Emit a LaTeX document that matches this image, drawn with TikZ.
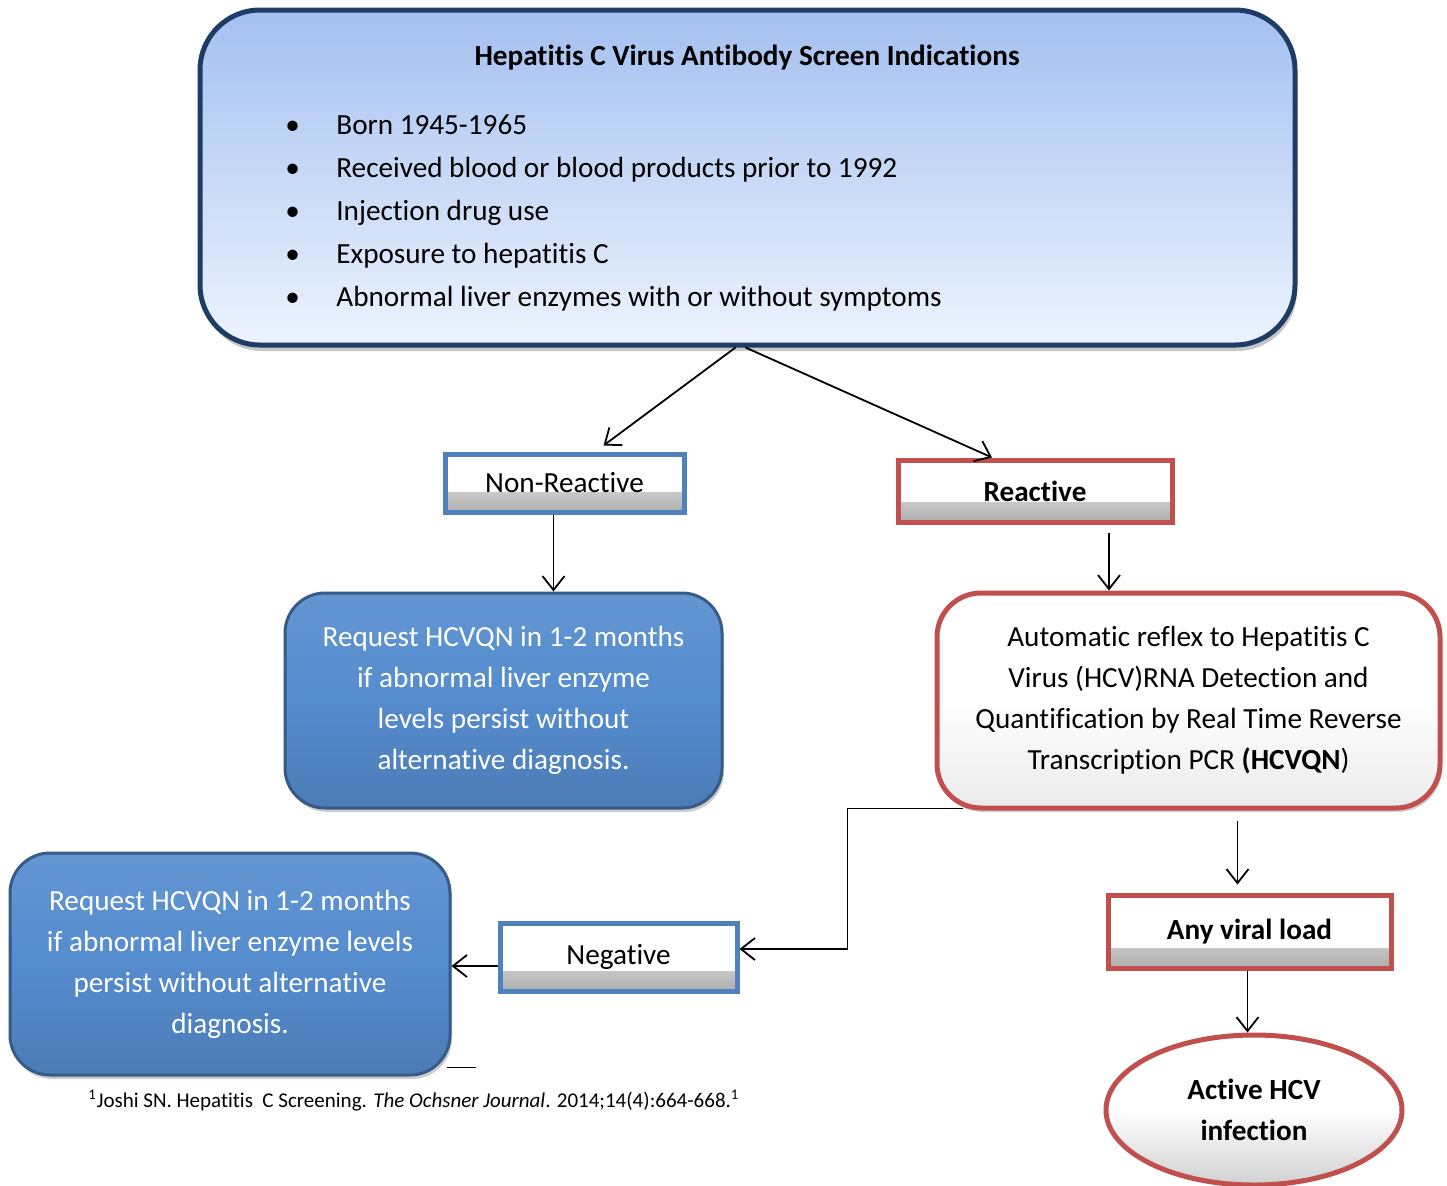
\documentclass[tikz,border=0pt]{standalone}
\usepackage{fontspec}
\setmainfont{Carlito}[RawFeature={-liga;-clig;-calt;-dlig}]
\usetikzlibrary{arrows.meta, positioning, calc, shapes.geometric, shadows}
\definecolor{ScreenTop}{RGB}{164,192,240}
\definecolor{ScreenBot}{RGB}{236,243,253}
\definecolor{ScreenEdge}{RGB}{30,60,102}
\definecolor{AccentBlue}{RGB}{79,129,189}
\definecolor{RequestBlue}{RGB}{85,140,206}
\definecolor{AccentRed}{RGB}{192,80,77}

\begin{document}
\begin{tikzpicture}[
    x=0.5pt, y=-0.5pt,
    every node/.style={font=\fontsize{14.6}{20.5}\selectfont},
    screenbox/.style={draw=ScreenEdge, line width=2.5pt, rounded corners=30pt, top color=ScreenTop, bottom color=ScreenBot, minimum width=547.5pt, minimum height=167.5pt, drop shadow={shadow xshift=1pt, shadow yshift=-3pt, opacity=0.45}},
    bevelbox/.style={rectangle, line width=2.5pt, fill=white, inner sep=0pt, align=center,
        path picture={\shade[top color=white, bottom color=black!32] ([yshift=10pt]path picture bounding box.south west) rectangle (path picture bounding box.south east);}},
    requestbox/.style={draw=RequestBlue!65!black, line width=1.5pt, rounded corners=20pt, top color=RequestBlue!92!white, bottom color=RequestBlue!88!black, middle color=RequestBlue, text=white, align=center, minimum width=218.5pt, minimum height=107.5pt, drop shadow={shadow xshift=1pt, shadow yshift=-2pt, opacity=0.4}},
    reflexbox/.style={draw=AccentRed, line width=2.5pt, rounded corners=22pt, top color=white, bottom color=black!8, middle color=white, align=center, minimum width=251.5pt, minimum height=107.5pt, drop shadow={shadow xshift=1pt, shadow yshift=-2pt, opacity=0.35}},
    arr/.style={-{Straight Barb[length=7pt, width=11pt]}, line width=0.9pt}
]
\useasboundingbox (0,0) rectangle (1447,1185);

% Screening indications
\node[screenbox] (screen) at (747.5,177.5) {};
\node[font=\fontsize{14.6}{20.5}\selectfont\bfseries] (title) at (747,58) {Hepatitis C Virus Antibody Screen Indications};
\node[anchor=west, align=left, inner sep=0pt, font=\fontsize{14.6}{21.5}\selectfont] (list) at (285,213) {%
    \makebox[25.5pt][l]{\textbullet}Born 1945-1965\\
    \makebox[25.5pt][l]{\textbullet}Received blood or blood products prior to 1992\\
    \makebox[25.5pt][l]{\textbullet}Injection drug use\\
    \makebox[25.5pt][l]{\textbullet}Exposure to hepatitis C\\
    \makebox[25.5pt][l]{\textbullet}Abnormal liver enzymes with or without symptoms};

% Results
\node[bevelbox, draw=AccentBlue, minimum width=119.5pt, minimum height=29pt] (nonreac) at (564.5,483) {Non-Reactive};
\node[bevelbox, draw=AccentRed, minimum width=137pt, minimum height=31pt, font=\fontsize{14.6}{20.5}\selectfont\bfseries] (reac) at (1035,491) {Reactive};

% Follow-up
\node[requestbox] (req1) at (503.5,700.5) {Request HCVQN in 1-2 months\\if abnormal liver enzyme\\levels persist without\\alternative diagnosis.};
\node[reflexbox] (reflex) at (1188.5,700.5) {Automatic reflex to Hepatitis C\\Virus (HCV)RNA Detection and\\Quantification by Real Time Reverse\\Transcription PCR \textbf{(HCVQN})};

\node[bevelbox, draw=AccentBlue, minimum width=118.5pt, minimum height=34pt] (neg) at (618.5,957) {Negative};
\node[requestbox, minimum width=220pt, minimum height=111pt] (req2) at (230,964) {Request HCVQN in 1-2 months\\if abnormal liver enzyme levels\\persist without alternative\\diagnosis.};

\node[bevelbox, draw=AccentRed, minimum width=141.5pt, minimum height=36.5pt, font=\fontsize{14.6}{20.5}\selectfont\bfseries] (viral) at (1249.5,931.5) {Any viral load};
\node[ellipse, draw=AccentRed, line width=2.5pt, top color=white, bottom color=black!18, middle color=white, minimum width=148pt, minimum height=75pt, align=center, font=\fontsize{14.6}{20.5}\selectfont\bfseries] (active) at (1254,1110) {Active HCV\\infection};

% Reference
\node[anchor=west, inner sep=0pt, font=\fontsize{10.5}{12}\selectfont] (ref) at (88,1101) {\textsuperscript{1}Joshi SN. Hepatitis\ \ C Screening. \textit{The Ochsner Journal}. 2014;14(4):664-668.\textsuperscript{1}};

% Connectors
\draw[arr] ([xshift=-6pt]screen.south) -- ([xshift=19.5pt,yshift=3pt]nonreac.north);
\draw[arr] ([xshift=-1pt]screen.south) -- ([xshift=-21.5pt]reac.north);
\draw[arr] ([xshift=-5.5pt]nonreac.south) coordinate (n1) -- (n1 |- req1.north);
\draw[arr] ([xshift=37pt,yshift=-4pt]reac.south) coordinate (n2) -- (n2 |- reflex.north);
\draw[arr] ([xshift=14pt,yshift=1pt]reflex.south west) -- ++(-115,0) |- ([yshift=4pt]neg.east);
\draw[arr] ([yshift=-4.5pt]neg.west) coordinate (n3) -- (n3 -| req2.east);
\draw[line width=0.9pt] ([xshift=-2.5pt,yshift=4.5pt]req2.south east) -- ++(29,0);
\draw[arr] ([xshift=24.5pt,yshift=-5pt]reflex.south) coordinate (n4) -- ([yshift=4pt]n4 |- viral.north);
\draw[arr] ([xshift=-1pt]viral.south) coordinate (n5) -- (n5 |- active.north);

\end{tikzpicture}
\end{document}
